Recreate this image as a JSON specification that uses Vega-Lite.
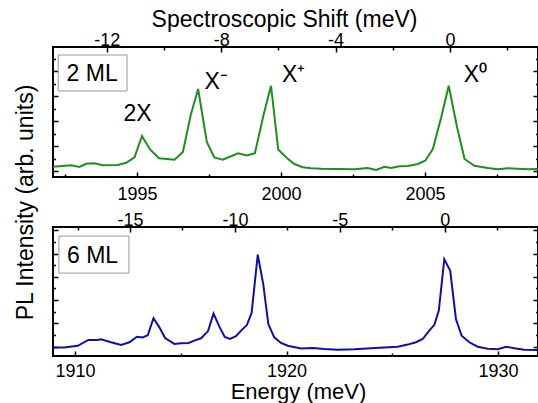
{
  "$schema": "https://vega.github.io/schema/vega-lite/v6.json",
  "background": "white",
  "padding": {"left": 13, "top": 7, "right": 0, "bottom": 0},
  "spacing": 50,
  "bounds": "flush",
  "config": {
    "view": {"stroke": "black", "strokeWidth": 2},
    "font": "Liberation Sans",
    "axis": {
      "domain": false, "grid": false, "tickColor": "black", "tickWidth": 1.5,
      "labelColor": "black", "titleColor": "black",
      "labelFont": "Liberation Sans", "titleFont": "Liberation Sans",
      "titleFontWeight": "normal", "labelFontSize": 18, "titleFontSize": 23,
      "labelFlush": false, "labelOverlap": false
    }
  },
  "vconcat": [
    {
      "width": 485, "height": 130,
      "resolve": {"scale": {"x": "independent"}, "axis": {"x": "independent", "y": "independent"}},
      "layer": [
        {
          "data": {"values": [
            {"energy": 1992.08, "intensity": 0.17}, {"energy": 1992.71, "intensity": 0.23},
            {"energy": 1993.00, "intensity": 0.16}, {"energy": 1993.23, "intensity": 0.29},
            {"energy": 1993.52, "intensity": 0.31}, {"energy": 1993.81, "intensity": 0.23},
            {"energy": 1994.33, "intensity": 0.24}, {"energy": 1994.62, "intensity": 0.33},
            {"energy": 1994.91, "intensity": 0.55}, {"energy": 1995.17, "intensity": 1.40},
            {"energy": 1995.45, "intensity": 0.86}, {"energy": 1995.76, "intensity": 0.51},
            {"energy": 1996.30, "intensity": 0.45}, {"energy": 1996.59, "intensity": 0.76},
            {"energy": 1996.86, "intensity": 2.23}, {"energy": 1997.12, "intensity": 3.28},
            {"energy": 1997.42, "intensity": 1.16}, {"energy": 1997.68, "intensity": 0.54},
            {"energy": 1997.97, "intensity": 0.45}, {"energy": 1998.26, "intensity": 0.59},
            {"energy": 1998.51, "intensity": 0.71}, {"energy": 1998.81, "intensity": 0.62},
            {"energy": 1999.09, "intensity": 0.71}, {"energy": 1999.39, "intensity": 2.24},
            {"energy": 1999.65, "intensity": 3.41}, {"energy": 1999.90, "intensity": 0.86},
            {"energy": 2000.17, "intensity": 0.55}, {"energy": 2000.46, "intensity": 0.28},
            {"energy": 2000.75, "intensity": 0.15}, {"energy": 2001.04, "intensity": 0.11},
            {"energy": 2001.39, "intensity": 0.09}, {"energy": 2001.97, "intensity": 0.08},
            {"energy": 2002.55, "intensity": 0.07}, {"energy": 2003.01, "intensity": 0.12},
            {"energy": 2003.30, "intensity": 0.04}, {"energy": 2003.59, "intensity": 0.17},
            {"energy": 2003.82, "intensity": 0.12}, {"energy": 2004.11, "intensity": 0.19},
            {"energy": 2004.40, "intensity": 0.20}, {"energy": 2004.75, "intensity": 0.28},
            {"energy": 2005.00, "intensity": 0.41}, {"energy": 2005.27, "intensity": 0.88},
            {"energy": 2005.56, "intensity": 2.15}, {"energy": 2005.82, "intensity": 3.41},
            {"energy": 2006.11, "intensity": 1.75}, {"energy": 2006.37, "intensity": 0.48},
            {"energy": 2006.71, "intensity": 0.21}, {"energy": 2007.18, "intensity": 0.12},
            {"energy": 2007.52, "intensity": 0.07}, {"energy": 2007.87, "intensity": 0.11},
            {"energy": 2008.22, "intensity": 0.09}, {"energy": 2008.57, "intensity": 0.07},
            {"energy": 2008.91, "intensity": 0.08}
          ]},
          "mark": {"type": "line", "color": "#1f8f1f", "strokeWidth": 2},
          "encoding": {
            "x": {"field": "energy", "type": "quantitative",
              "scale": {"domain": [1992.08, 2008.92], "nice": false, "zero": false},
              "axis": {"orient": "bottom", "values": [1995, 2000, 2005], "format": "d", "tickSize": -5,
                "labelPadding": 27, "labelBaseline": "alphabetic", "title": null}},
            "y": {"field": "intensity", "type": "quantitative",
              "scale": {"domain": [-0.24, 4.96], "nice": false, "zero": false},
              "axis": {"orient": "left", "values": [0, 1, 2, 3, 4], "labels": false, "tickSize": -5,
                "title": "PL Intensity (arb. units)", "titleX": -21, "titleY": 155, "titleAngle": -90,
                "titleAlign": "center", "titleBaseline": "alphabetic"}}
          }
        },
        {
          "data": {"values": [{"x1": 1992.26, "x2": 1994.65, "y1": 3.2, "y2": 4.64}]},
          "mark": {"type": "rect", "fill": "white", "stroke": "#999999", "strokeWidth": 1},
          "encoding": {
            "x": {"field": "x1", "type": "quantitative",
              "scale": {"domain": [1992.08, 2008.92], "nice": false, "zero": false},
              "axis": {"orient": "bottom", "values": [1992.5, 1997.5, 2002.5, 2007.5], "labels": false, "tickSize": -3, "title": null}},
            "x2": {"field": "x2"},
            "y": {"field": "y1", "type": "quantitative",
              "scale": {"domain": [-0.24, 4.96], "nice": false, "zero": false},
              "axis": {"orient": "left", "values": [0.5, 1.5, 2.5, 3.5, 4.5], "labels": false, "tickSize": -2.5, "title": null}},
            "y2": {"field": "y2"}
          }
        },
        {
          "data": {"values": [
            {"label": "2 ML", "energy": 1992.55, "intensity": 3.6},
            {"label": "2X", "energy": 1994.53, "intensity": 2.01},
            {"label": "X⁻", "energy": 1997.34, "intensity": 3.28},
            {"label": "X⁺", "energy": 2000.03, "intensity": 3.55},
            {"label": "X⁰", "energy": 2006.34, "intensity": 3.57}
          ]},
          "mark": {"type": "text", "align": "left", "baseline": "alphabetic", "fontSize": 23, "font": "Liberation Sans", "color": "black"},
          "encoding": {
            "x": {"field": "energy", "type": "quantitative",
              "scale": {"domain": [1992.08, 2008.92], "nice": false, "zero": false}, "axis": null},
            "y": {"field": "intensity", "type": "quantitative",
              "scale": {"domain": [-0.24, 4.96], "nice": false, "zero": false}, "axis": null},
            "text": {"field": "label"}
          }
        },
        {
          "data": {"values": [{}]},
          "mark": {"type": "point", "opacity": 0},
          "encoding": {
            "x": {"datum": 0, "type": "quantitative",
              "scale": {"domain": [-13.88, 3.08], "nice": false, "zero": false},
              "axis": {"orient": "top", "values": [-12, -8, -4, 0], "tickSize": -5, "labelPadding": 6.5,
                "labelBaseline": "alphabetic",
                "labelExpr": "(datum.value < 0 ? '-' : '') + format(abs(datum.value), 'd')",
                "title": "Spectroscopic Shift (meV)", "titleX": 231, "titleY": -21,
                "titleBaseline": "alphabetic", "titleAlign": "center"}},
            "y": {"datum": 0, "type": "quantitative",
              "scale": {"domain": [-0.24, 4.96], "nice": false, "zero": false},
              "axis": {"orient": "right", "values": [0, 1, 2, 3, 4], "labels": false, "tickSize": -5, "title": null}}
          }
        },
        {
          "data": {"values": [{}]},
          "mark": {"type": "point", "opacity": 0},
          "encoding": {
            "x": {"datum": 0, "type": "quantitative",
              "scale": {"domain": [-13.88, 3.08], "nice": false, "zero": false},
              "axis": {"orient": "top", "values": [-10, -6, -2, 2], "labels": false, "tickSize": -3, "title": null}},
            "y": {"datum": 0, "type": "quantitative",
              "scale": {"domain": [-0.24, 4.96], "nice": false, "zero": false},
              "axis": {"orient": "right", "values": [0.5, 1.5, 2.5, 3.5, 4.5], "labels": false, "tickSize": -2.5, "title": null}}
          }
        }
      ]
    },
    {
      "width": 485, "height": 129,
      "resolve": {"scale": {"x": "independent"}, "axis": {"x": "independent", "y": "independent"}},
      "layer": [
        {
          "data": {"values": [
            {"energy": 1908.95, "intensity": -0.03}, {"energy": 1909.49, "intensity": -0.03},
            {"energy": 1910.13, "intensity": 0.04}, {"energy": 1910.63, "intensity": 0.29},
            {"energy": 1911.07, "intensity": 0.29}, {"energy": 1911.23, "intensity": 0.32},
            {"energy": 1911.70, "intensity": 0.19}, {"energy": 1912.18, "intensity": 0.07},
            {"energy": 1912.57, "intensity": 0.19}, {"energy": 1912.93, "intensity": 0.43},
            {"energy": 1913.20, "intensity": 0.40}, {"energy": 1913.44, "intensity": 0.49},
            {"energy": 1913.71, "intensity": 1.22}, {"energy": 1913.99, "intensity": 0.83},
            {"energy": 1914.26, "intensity": 0.37}, {"energy": 1914.70, "intensity": 0.12},
            {"energy": 1915.01, "intensity": 0.15}, {"energy": 1915.37, "intensity": 0.16},
            {"energy": 1915.64, "intensity": 0.26}, {"energy": 1915.96, "intensity": 0.36},
            {"energy": 1916.29, "intensity": 0.67}, {"energy": 1916.55, "intensity": 1.42},
            {"energy": 1916.82, "intensity": 0.87}, {"energy": 1917.08, "intensity": 0.42},
            {"energy": 1917.32, "intensity": 0.33}, {"energy": 1917.61, "intensity": 0.45},
            {"energy": 1917.85, "intensity": 0.69}, {"energy": 1918.12, "intensity": 0.92},
            {"energy": 1918.35, "intensity": 1.45}, {"energy": 1918.64, "intensity": 3.95},
            {"energy": 1918.90, "intensity": 2.69}, {"energy": 1919.14, "intensity": 0.97},
            {"energy": 1919.42, "intensity": 0.40}, {"energy": 1919.74, "intensity": 0.16},
            {"energy": 1920.06, "intensity": 0.04}, {"energy": 1920.69, "intensity": -0.08},
            {"energy": 1921.24, "intensity": -0.06}, {"energy": 1921.79, "intensity": -0.10},
            {"energy": 1922.42, "intensity": -0.13}, {"energy": 1923.21, "intensity": -0.11},
            {"energy": 1924.00, "intensity": -0.07}, {"energy": 1924.62, "intensity": -0.04},
            {"energy": 1925.26, "intensity": 0.00}, {"energy": 1925.73, "intensity": 0.09},
            {"energy": 1926.12, "intensity": 0.19}, {"energy": 1926.44, "intensity": 0.33},
            {"energy": 1926.75, "intensity": 0.69}, {"energy": 1926.99, "intensity": 0.94},
            {"energy": 1927.20, "intensity": 1.55}, {"energy": 1927.46, "intensity": 3.76},
            {"energy": 1927.74, "intensity": 3.26}, {"energy": 1928.01, "intensity": 1.19},
            {"energy": 1928.28, "intensity": 0.47}, {"energy": 1928.64, "intensity": 0.19},
            {"energy": 1929.04, "intensity": 0.00}, {"energy": 1929.51, "intensity": -0.09},
            {"energy": 1929.99, "intensity": -0.11}, {"energy": 1930.38, "intensity": 0.00},
            {"energy": 1930.77, "intensity": -0.07}, {"energy": 1931.24, "intensity": -0.13},
            {"energy": 1931.88, "intensity": -0.14}
          ]},
          "mark": {"type": "line", "color": "#1010a6", "strokeWidth": 2},
          "encoding": {
            "x": {"field": "energy", "type": "quantitative",
              "scale": {"domain": [1908.96, 1931.89], "nice": false, "zero": false},
              "axis": {"orient": "bottom", "values": [1910, 1920, 1930], "format": "d", "tickSize": -5,
                "labelPadding": 25, "labelBaseline": "alphabetic",
                "title": "Energy (meV)", "titleFontSize": 22, "titleX": 245, "titleY": 42, "titleBaseline": "alphabetic", "titleAlign": "center"}},
            "y": {"field": "intensity", "type": "quantitative",
              "scale": {"domain": [-0.40, 5.14], "nice": false, "zero": false},
              "axis": {"orient": "left", "values": [0, 1, 2, 3, 4, 5], "labels": false, "tickSize": -5, "title": null}}
          }
        },
        {
          "data": {"values": [{"x1": 1909.24, "x2": 1912.55, "y1": 3.16, "y2": 4.75}]},
          "mark": {"type": "rect", "fill": "white", "stroke": "#999999", "strokeWidth": 1},
          "encoding": {
            "x": {"field": "x1", "type": "quantitative",
              "scale": {"domain": [1908.96, 1931.89], "nice": false, "zero": false},
              "axis": {"orient": "bottom", "values": [1915, 1925], "labels": false, "tickSize": -3, "title": null}},
            "x2": {"field": "x2"},
            "y": {"field": "y1", "type": "quantitative",
              "scale": {"domain": [-0.40, 5.14], "nice": false, "zero": false},
              "axis": {"orient": "left", "values": [0.5, 1.5, 2.5, 3.5, 4.5], "labels": false, "tickSize": -2.5, "title": null}},
            "y2": {"field": "y2"}
          }
        },
        {
          "data": {"values": [{"label": "6 ML", "energy": 1909.62, "intensity": 3.59}]},
          "mark": {"type": "text", "align": "left", "baseline": "alphabetic", "fontSize": 23, "font": "Liberation Sans", "color": "black"},
          "encoding": {
            "x": {"field": "energy", "type": "quantitative",
              "scale": {"domain": [1908.96, 1931.89], "nice": false, "zero": false}, "axis": null},
            "y": {"field": "intensity", "type": "quantitative",
              "scale": {"domain": [-0.40, 5.14], "nice": false, "zero": false}, "axis": null},
            "text": {"field": "label"}
          }
        },
        {
          "data": {"values": [{}]},
          "mark": {"type": "point", "opacity": 0},
          "encoding": {
            "x": {"datum": 0, "type": "quantitative",
              "scale": {"domain": [-18.67, 4.45], "nice": false, "zero": false},
              "axis": {"orient": "top", "values": [-15, -10, -5, 0], "tickSize": -5, "labelPadding": 6.5,
                "labelBaseline": "alphabetic",
                "labelExpr": "(datum.value < 0 ? '-' : '') + format(abs(datum.value), 'd')",
                "title": null}},
            "y": {"datum": 0, "type": "quantitative",
              "scale": {"domain": [-0.40, 5.14], "nice": false, "zero": false},
              "axis": {"orient": "right", "values": [0, 1, 2, 3, 4, 5], "labels": false, "tickSize": -5, "title": null}}
          }
        },
        {
          "data": {"values": [{}]},
          "mark": {"type": "point", "opacity": 0},
          "encoding": {
            "x": {"datum": 0, "type": "quantitative",
              "scale": {"domain": [-18.67, 4.45], "nice": false, "zero": false},
              "axis": {"orient": "top", "values": [-17.5, -12.5, -7.5, -2.5, 2.5], "labels": false, "tickSize": -3, "title": null}},
            "y": {"datum": 0, "type": "quantitative",
              "scale": {"domain": [-0.40, 5.14], "nice": false, "zero": false},
              "axis": {"orient": "right", "values": [0.5, 1.5, 2.5, 3.5, 4.5], "labels": false, "tickSize": -2.5, "title": null}}
          }
        }
      ]
    }
  ]
}
